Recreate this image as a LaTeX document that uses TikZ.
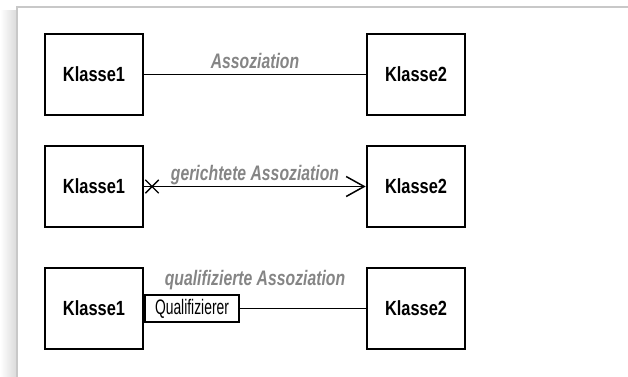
\documentclass[tikz,border=0pt]{standalone}
\usepackage{fontspec}
\setmainfont{Liberation Sans}
\newfontfamily\klassfont[FakeStretch=0.80]{Liberation Sans}
\newfontfamily\lblfont[FakeStretch=0.75]{Liberation Sans}
\newfontfamily\qualfont[FakeStretch=0.66]{Liberation Sans}
\usepackage{tikz}
\usetikzlibrary{
  arrows.meta,
  positioning,
  shapes.misc
}
\definecolor{FrameGray}{HTML}{C8C8C8}
\definecolor{LabelGray}{HTML}{858585}
\tikzset{
  % Class box
  cls/.style={
    rectangle, draw=black, line width=2.6pt,
    minimum width=98pt, minimum height=81pt,
    inner sep=0pt, font=\klassfont\fontsize{20.5}{24}\selectfont\bfseries
  },
  % Qualifier box
  qual/.style={
    rectangle, draw=black, line width=1.4pt, fill=white,
    minimum width=94pt, minimum height=27pt,
    inner sep=0pt, font=\qualfont\fontsize{21}{24}\selectfont
  },
  % Association line
  assoc/.style={line width=1.5pt, color=black},
  % Grey association label
  lbl/.style={font=\lblfont\fontsize{21}{24}\selectfont\bfseries\itshape,
    color=LabelGray, anchor=base, inner sep=0pt},
  % Non-navigable cross
  xmark/.style={cross out, draw=black, line width=1.4pt,
    minimum size=12pt, inner sep=0pt}
}

\begin{document}
\begin{tikzpicture}[x=1pt,y=-1pt]

  \useasboundingbox (0,0) rectangle (628,376);

  % Frame with soft shadow on the left
  \shade[left color=white, right color=black!14] (0,10) rectangle (16,376);
  \draw[FrameGray, line width=2pt] (17,400) -- (17,7) -- (640,7);

  % Class boxes, one row per kind of association
  \foreach \r/\y in {1/74.5, 2/186.5, 3/308.5}{
    \node[cls] (k\r a) at (94,\y)  {Klasse1};
    \node[cls] (k\r b) at (416,\y) {Klasse2};
  }

  % Row 1: plain association
  \draw[assoc] (k1a.east) -- (k1b.west);
  \node[lbl] (l1) at (255,68) {Assoziation};

  % Row 2: directed association
  \node[xmark] (x2) at (152,186.5) {};
  \draw[assoc, -{Straight Barb[length=18pt,width=20pt,line width=1.5pt]}]
    (k2a.east) -- (k2b.west);
  \node[lbl] (l2) at (255,180) {gerichtete Assoziation};

  % Row 3: qualified association
  \node[qual, anchor=west] (q3) at (k3a.east) {Qualifizierer};
  \draw[assoc] (q3.east) -- (k3b.west);
  \node[lbl] (l3) at (255,285) {qualifizierte Assoziation};

\end{tikzpicture}
\end{document}
